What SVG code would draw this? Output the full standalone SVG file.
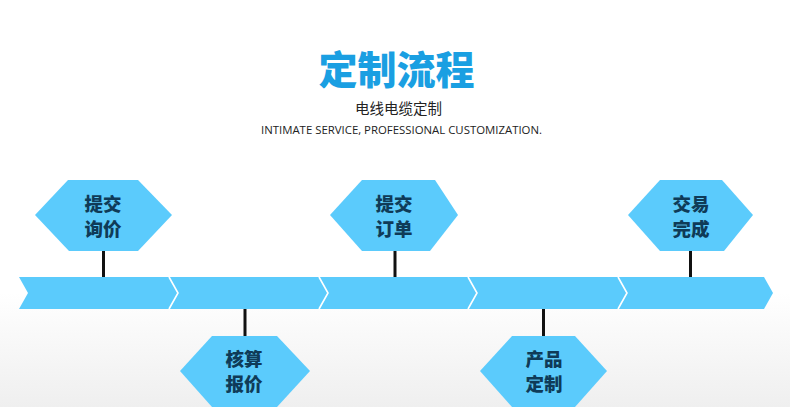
<svg xmlns="http://www.w3.org/2000/svg" width="790" height="407" viewBox="0 0 790 407">
  <defs>
    <linearGradient id="bg" x1="0" y1="0" x2="0" y2="1">
      <stop offset="0" stop-color="#ffffff"/>
      <stop offset="0.72" stop-color="#ffffff"/>
      <stop offset="1" stop-color="#efefef"/>
    </linearGradient>
    <style>
      .hex { fill: #5bcbfc; }
      .lbl { font-family: "Noto Sans CJK SC", "Noto Sans", sans-serif; font-weight: 900; font-size: 18.5px; fill: #0f3b58; text-anchor: middle; }
      .conn { stroke: #111111; stroke-width: 3; fill: none; }
      .sep { stroke: #ffffff; stroke-width: 1.6; fill: none; }
    </style>
  </defs>
  <rect x="0" y="0" width="790" height="407" fill="url(#bg)"/>

  <g id="title">
    <text x="396.5" y="83.5" font-family="'Noto Sans CJK SC', sans-serif" font-weight="900" font-size="39" fill="#1a9fe2" text-anchor="middle">定制流程</text>
    <text x="398.5" y="113.5" font-family="'Noto Sans CJK SC', sans-serif" font-size="14.5" fill="#222222" text-anchor="middle">电线电缆定制</text>
    <text x="401.5" y="134" font-family="'Open Sans', 'Liberation Sans', sans-serif" font-size="10.5" fill="#222222" text-anchor="middle" textLength="281" lengthAdjust="spacingAndGlyphs">INTIMATE SERVICE, PROFESSIONAL CUSTOMIZATION.</text>
  </g>

  <g id="band">
    <polygon class="hex" points="19,277 764,277 773,293 764,309 19,309 28,293"/>
    <polyline class="sep" points="169,277 178,293 169,309"/>
    <polyline class="sep" points="319,277 328,293 319,309"/>
    <polyline class="sep" points="468,277 477,293 468,309"/>
    <polyline class="sep" points="618,277 627,293 618,309"/>
  </g>

  <g id="connectors">
    <line class="conn" x1="103.5" y1="250" x2="103.5" y2="277"/>
    <line class="conn" x1="245" y1="309" x2="245" y2="337"/>
    <line class="conn" x1="395" y1="250" x2="395" y2="277"/>
    <line class="conn" x1="543.5" y1="309" x2="543.5" y2="337"/>
    <line class="conn" x1="690.5" y1="250" x2="690.5" y2="277"/>
  </g>

  <g id="node1">
    <polygon class="hex" points="35,215 68,180 138,180 172,215 138,251 69,251"/>
    <text class="lbl" x="103" y="211">提交</text>
    <text class="lbl" x="103" y="236">询价</text>
  </g>
  <g id="node2">
    <polygon class="hex" points="180,371 212,336 277,336 310,371 277,407 212,407"/>
    <text class="lbl" x="244" y="366">核算</text>
    <text class="lbl" x="244" y="391">报价</text>
  </g>
  <g id="node3">
    <polygon class="hex" points="330,215 362,180 435,180 458,215 430,251 362,251"/>
    <text class="lbl" x="394" y="211">提交</text>
    <text class="lbl" x="394" y="236">订单</text>
  </g>
  <g id="node4">
    <polygon class="hex" points="480,371 512,336 575,336 607,371 575,407 512,407"/>
    <text class="lbl" x="544" y="366">产品</text>
    <text class="lbl" x="544" y="391">定制</text>
  </g>
  <g id="node5">
    <polygon class="hex" points="628,215 660,180 722,180 753,215 724,251 660,251"/>
    <text class="lbl" x="691" y="211">交易</text>
    <text class="lbl" x="691" y="236">完成</text>
  </g>
</svg>
